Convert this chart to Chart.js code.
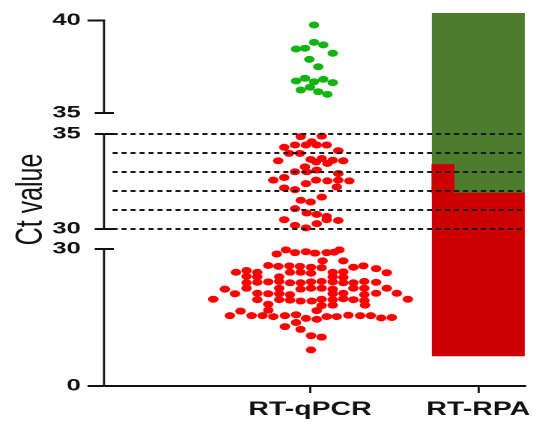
<!DOCTYPE html>
<html>
<head>
<meta charset="utf-8">
<script src="https://cdn.jsdelivr.net/npm/chart.js@4.4.1/dist/chart.umd.min.js"></script>
<style>
  html, body { margin: 0; padding: 0; background: #fff; overflow: hidden; }
  #wrap { width: 539px; height: 428px; overflow: hidden; }
  /* the source figure is stretched sideways, so the canvas is too */
  #chart { display: block; width: 360px; height: 428px; transform: scale(1.497222, 1); transform-origin: 0 0; }
</style>
</head>
<body>
<div id="wrap"><canvas id="chart" width="360" height="428"></canvas></div>
<script>
const categories = ['RT-qPCR', 'RT-RPA'];
const yTickValues = [0, 30, 30, 35, 35, 40];
const yTickSegs = ['low', 'low', 'mid', 'mid', 'high', 'high'];
const cutoffCt = [35, 34, 33, 32, 31, 30];

// RT-RPA result bar (Ct ranges)
const rpaPositive = [6.6, 31.9];
const rpaPositiveExtra = [31.9, 33.4];
const rpaNegative = [31.9, 40.4];
const rpaX = 2;
const rpaExtraX = 1.79;

// RT-qPCR samples: [x, Ct]
const qpcrGreen = [
  [1.024, 39.76], [0.917, 38.46], [0.970, 38.50], [1.024, 38.82], [1.079, 38.68], [1.135, 38.23],
  [0.996, 37.90], [1.049, 37.50], [0.917, 36.73], [0.970, 36.88], [1.024, 36.69], [1.079, 36.82],
  [1.135, 36.64], [0.945, 36.24], [1.000, 36.39], [1.049, 36.15], [1.103, 36.01]
];
const qpcrRedMid = [
  [0.945, 34.86], [1.070, 34.89], [0.847, 34.30], [0.911, 34.42], [0.976, 34.42], [1.010, 34.59],
  [1.040, 34.42], [1.099, 34.42], [0.875, 33.98], [0.940, 33.98], [1.168, 34.12], [0.811, 33.59],
  [1.004, 33.66], [1.036, 33.53], [1.070, 33.71], [1.103, 33.45], [1.135, 33.62], [1.198, 33.59],
  [0.970, 33.27], [0.911, 33.01], [0.980, 33.01], [1.040, 33.10], [1.168, 32.92], [0.782, 32.57],
  [0.847, 32.71], [1.036, 32.57], [1.103, 32.53], [1.168, 32.57], [1.234, 32.53], [0.976, 32.39],
  [0.847, 32.16], [0.911, 32.07], [1.159, 32.21], [1.070, 31.68], [0.945, 31.51], [1.004, 31.42],
  [0.911, 31.07], [0.980, 30.84], [1.040, 30.77], [1.099, 30.66], [0.847, 30.49], [1.099, 30.49],
  [1.168, 30.45], [0.911, 30.19], [0.976, 30.06], [1.040, 30.28]
];
const qpcrRedLow = [
  [0.802, 28.9], [0.857, 29.8], [0.911, 29.2], [0.976, 29.4], [1.030, 29.1], [1.099, 29.2], [1.143, 29.3], [1.175, 29.8],
  [1.075, 27.4], [1.198, 27.4],
  [0.752, 26.4], [0.812, 26.2], [0.877, 26.3], [0.940, 26.2], [1.006, 26.0], [1.069, 25.9], [1.258, 26.0], [1.317, 26.3], [1.393, 25.7],
  [0.560, 24.9], [0.623, 25.3], [0.687, 24.9], [0.881, 24.9], [0.944, 24.9], [1.006, 24.7], [1.135, 24.9], [1.198, 25.0], [1.456, 24.8],
  [0.623, 24.0], [0.687, 23.9], [0.817, 23.9], [1.135, 23.9], [1.198, 23.8],
  [0.623, 22.6], [0.687, 22.7], [0.752, 22.8], [0.817, 22.9], [0.881, 22.6], [0.944, 22.6], [1.006, 22.8],
  [1.069, 22.9], [1.135, 22.8], [1.198, 22.6], [1.258, 22.6], [1.323, 22.9], [1.393, 22.7],
  [0.494, 21.2], [0.623, 21.4], [0.817, 21.4], [0.944, 21.2], [1.006, 21.4], [1.069, 21.4], [1.135, 21.2], [1.258, 21.4], [1.323, 21.4], [1.456, 21.4],
  [0.554, 20.2], [0.687, 20.3], [0.752, 20.2], [0.817, 20.2], [0.881, 20.0], [1.135, 20.2], [1.198, 20.3], [1.323, 20.0], [1.393, 20.3], [1.516, 20.3],
  [0.425, 19.0], [0.687, 18.9], [0.817, 18.9], [0.881, 18.8], [0.944, 18.6], [1.010, 18.6], [1.069, 19.0], [1.135, 18.9], [1.198, 19.1], [1.258, 18.9], [1.323, 18.7], [1.581, 19.0],
  [0.752, 17.9], [1.069, 17.6], [1.135, 17.7], [1.327, 17.7],
  [0.587, 16.4], [0.752, 16.6], [1.040, 16.5],
  [0.524, 15.4], [0.653, 15.4], [0.718, 15.4], [0.782, 15.2], [0.851, 15.4], [0.917, 15.6], [0.976, 14.8], [1.040, 14.6],
  [1.099, 15.2], [1.159, 15.2], [1.228, 15.5], [1.298, 15.4], [1.361, 15.4], [1.423, 14.9], [1.486, 15.0],
  [0.851, 13.0], [0.917, 13.9], [0.944, 12.4],
  [1.006, 11.0], [1.069, 10.7],
  [1.006, 7.9]
];

// broken axis: height (px above the x axis) of each Ct piece
const SEG = {
  low:  { lo: 0,  hi: 30, hLo: 0,   hHi: 137 },
  mid:  { lo: 30, hi: 35, hLo: 157, hHi: 252 },
  high: { lo: 35, hi: 40, hLo: 273, hHi: 365.5 }
};
const H_MAX = 373;
const AXIS_X = 69.46;          // y axis position (canvas px, before stretch)
const X_MIN = -0.224, X_MAX = 2.2775;
const INK = '#111';
const FONT = 'Liberation Sans, Arial, sans-serif';

function toH(ct, seg) {
  const s = SEG[seg];
  return s.hLo + (ct - s.lo) * (s.hHi - s.hLo) / (s.hi - s.lo);
}
const pts = (arr, seg) => arr.map(([x, ct]) => ({ x: x, y: toH(ct, seg) }));

const brokenAxis = {
  id: 'brokenAxis',
  afterDraw(chart) {
    const { ctx, chartArea } = chart;
    const y = chart.scales.y;
    const x0 = chartArea.left;
    const names = ['low', 'mid', 'high'];
    ctx.save();
    ctx.strokeStyle = INK;
    const seg = (x1, y1, x2, y2, w) => {
      ctx.lineWidth = w;
      ctx.beginPath(); ctx.moveTo(x1, y1); ctx.lineTo(x2, y2); ctx.stroke();
    };
    names.forEach((n, i) => {
      const s = SEG[n];
      const pTop = y.getPixelForValue(s.hHi);
      const pBot = y.getPixelForValue(s.hLo);
      seg(x0, pTop - 1, x0, pBot + 1, 1.4);
      // top end
      if (i === names.length - 1) seg(x0 - 11, pTop, x0 + 0.7, pTop, 2);
      else seg(x0 - 6.2, pTop, x0 + 6.6, pTop, 2);
      // bottom end
      if (i === 0) seg(x0 - 11, pBot, x0, pBot, 2);
      else seg(x0 - 6.2, pBot, x0 + 6.6, pBot, 2);
    });
    ctx.restore();
  }
};

const lineSets = cutoffCt.map(ct => ({
  type: 'line',
  data: [{ x: -0.173, y: toH(ct, 'mid') }, { x: 2.256, y: toH(ct, 'mid') }],
  borderColor: '#1a1a1a',
  borderWidth: 2,
  borderDash: [3.4, 2.6],
  pointRadius: 0,
  order: 0
}));

const dotStyle = { pointRadius: 3.5, pointBorderWidth: 0, pointHoverRadius: 3.5, order: 1 };

new Chart(document.getElementById('chart'), {
  type: 'scatter',
  data: {
    datasets: [
      { type: 'bar', data: [{ x: rpaX, y: [toH(rpaPositive[0], 'low'), toH(rpaPositive[1], 'mid')] }],
        backgroundColor: '#cc0000', barThickness: 61.4, stack: 'rpa', order: 3 },
      { type: 'bar', data: [{ x: rpaX, y: [toH(rpaNegative[0], 'mid'), toH(rpaNegative[1], 'high')] }],
        backgroundColor: '#4c7d2c', barThickness: 61.4, stack: 'rpa', order: 3 },
      { type: 'bar', data: [{ x: rpaExtraX, y: [toH(rpaPositiveExtra[0], 'mid'), toH(rpaPositiveExtra[1], 'mid')] }],
        backgroundColor: '#cc0000', barThickness: 14.6, stack: 'rpa', order: 2 },
      Object.assign({ data: pts(qpcrGreen, 'high'), pointBackgroundColor: '#12b312' }, dotStyle),
      Object.assign({ data: pts(qpcrRedMid, 'mid'), pointBackgroundColor: '#ff0000' }, dotStyle),
      Object.assign({ data: pts(qpcrRedLow, 'low'), pointBackgroundColor: '#ff0000' }, dotStyle),
      ...lineSets
    ]
  },
  options: {
    responsive: false,
    devicePixelRatio: 2,
    animation: false,
    layout: { padding: { top: 13, right: 9.35, bottom: 0, left: 0 } },
    plugins: { legend: { display: false }, tooltip: { enabled: false } },
    scales: {
      x: {
        type: 'linear', min: X_MIN, max: X_MAX, offset: false,
        afterBuildTicks: s => { s.ticks = categories.map((c, i) => ({ value: i + 1 })); },
        afterFit: s => { s.height = 42; s.paddingLeft = 0; s.paddingRight = 0; },
        ticks: {
          autoSkip: false, maxRotation: 0, padding: 5.5, color: INK,
          font: { family: FONT, size: 19, weight: 'bold' },
          callback: (v, i) => categories[i]
        },
        grid: { offset: false, drawOnChartArea: false, drawTicks: true, tickLength: 7, lineWidth: 1.4, color: INK },
        border: { display: true, color: INK, width: 2 }
      },
      y: {
        type: 'linear', min: 0, max: H_MAX, stacked: false,
        afterBuildTicks: s => { s.ticks = yTickValues.map((v, i) => ({ value: toH(v, yTickSegs[i]) })); },
        afterFit: s => { s.width = AXIS_X; s.paddingTop = 0; s.paddingBottom = 0; },
        ticks: {
          autoSkip: false, padding: 15.5, color: INK,
          font: { family: FONT, size: 17, weight: 'bold' },
          callback: (v, i) => String(yTickValues[i])
        },
        grid: { display: false, drawTicks: false },
        border: { display: false },
        title: {
          display: true, text: 'Ct value', color: INK,
          font: { family: FONT, size: 25 },
          padding: { top: 6.3, bottom: 0 }
        }
      }
    }
  },
  plugins: [brokenAxis]
});
</script>
</body>
</html>
